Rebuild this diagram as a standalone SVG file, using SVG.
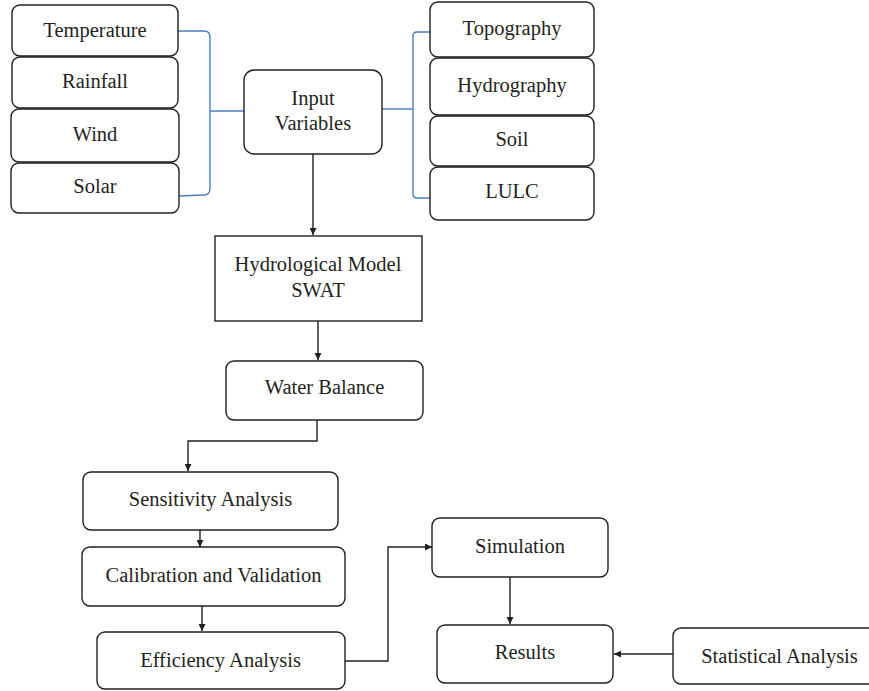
<svg xmlns="http://www.w3.org/2000/svg" width="869" height="691" viewBox="0 0 869 691">
<style>
.n{fill:#fff;stroke:#231f20;stroke-width:1.4}
.t{font-family:"Liberation Serif","Times New Roman",serif;font-size:20.5px;fill:#231f20;text-anchor:middle}
.c{fill:none;stroke:#231f20;stroke-width:1.4}
.b{fill:none;stroke:#4a7cc4;stroke-width:1.4}
</style>
<defs>
<marker id="ah" viewBox="0 0 10 10" refX="10" refY="5" markerWidth="7" markerHeight="7" markerUnits="userSpaceOnUse" orient="auto">
<path d="M0,0 L10,5 L0,10 z" fill="#231f20"/>
</marker>
</defs>
<rect width="869" height="691" fill="#fff"/>
<g id="connectors">
<path class="b" d="M178,31 L204,31 Q210,31 210,37 L210,188 Q210,195 204,195 L179,196"/>
<path class="b" d="M210,111 L244,111"/>
<path class="b" d="M382,109 L413,109"/>
<path class="b" d="M430,32 L417,32 Q413,32 413,36 L413,194 Q413,198 417,198 L430,198"/>
<path class="c" d="M313,154 L313,235" marker-end="url(#ah)"/>
<path class="c" d="M318,321 L318,360" marker-end="url(#ah)"/>
<path class="c" d="M317,420 L317,441 L188,441 L188,471" marker-end="url(#ah)"/>
<path class="c" d="M200,530 L200,547" marker-end="url(#ah)"/>
<path class="c" d="M202,606 L202,631" marker-end="url(#ah)"/>
<path class="c" d="M345,661 L388,661 L388,547 L432,547" marker-end="url(#ah)"/>
<path class="c" d="M510,577 L510,624" marker-end="url(#ah)"/>
<path class="c" d="M673,654 L614,654" marker-end="url(#ah)"/>
</g>
<g id="temperature"><rect class="n" x="12" y="5" width="166" height="51" rx="8"/><text class="t" x="95" y="37">Temperature</text></g>
<g id="rainfall"><rect class="n" x="12" y="57" width="166" height="51" rx="8"/><text class="t" x="95" y="88">Rainfall</text></g>
<g id="wind"><rect class="n" x="11" y="109" width="168" height="53" rx="8"/><text class="t" x="95" y="141">Wind</text></g>
<g id="solar"><rect class="n" x="11" y="163" width="168" height="50" rx="8"/><text class="t" x="95" y="193">Solar</text></g>
<g id="input"><rect class="n" x="244" y="70" width="138" height="84" rx="10"/><text class="t" x="313" y="105">Input</text><text class="t" x="313" y="130">Variables</text></g>
<g id="topography"><rect class="n" x="430" y="2" width="164" height="55" rx="8"/><text class="t" x="512" y="35">Topography</text></g>
<g id="hydrography"><rect class="n" x="430" y="58" width="164" height="57" rx="8"/><text class="t" x="512" y="92">Hydrography</text></g>
<g id="soil"><rect class="n" x="430" y="116" width="164" height="50" rx="8"/><text class="t" x="512" y="146">Soil</text></g>
<g id="lulc"><rect class="n" x="430" y="167" width="164" height="53" rx="8"/><text class="t" x="512" y="198">LULC</text></g>
<g id="hydrological"><rect class="n" x="215" y="236" width="207" height="85"/><text class="t" x="318" y="271">Hydrological Model</text><text class="t" x="318" y="297">SWAT</text></g>
<g id="water"><rect class="n" x="226" y="361" width="197" height="59" rx="8"/><text class="t" x="324.5" y="394">Water Balance</text></g>
<g id="sensitivity"><rect class="n" x="83" y="472" width="255" height="58" rx="8"/><text class="t" x="210.5" y="506">Sensitivity Analysis</text></g>
<g id="calibration"><rect class="n" x="82" y="547" width="263" height="59" rx="8"/><text class="t" x="213.5" y="582">Calibration and Validation</text></g>
<g id="efficiency"><rect class="n" x="97" y="632" width="248" height="57" rx="8"/><text class="t" x="220.5" y="667">Efficiency Analysis</text></g>
<g id="simulation"><rect class="n" x="432" y="518" width="176" height="59" rx="8"/><text class="t" x="520" y="553">Simulation</text></g>
<g id="results"><rect class="n" x="437" y="625" width="176" height="58" rx="8"/><text class="t" x="525" y="659">Results</text></g>
<g id="statistical"><rect class="n" x="673" y="628" width="230" height="56" rx="8"/><text class="t" x="779.5" y="663">Statistical Analysis</text></g>
</svg>
